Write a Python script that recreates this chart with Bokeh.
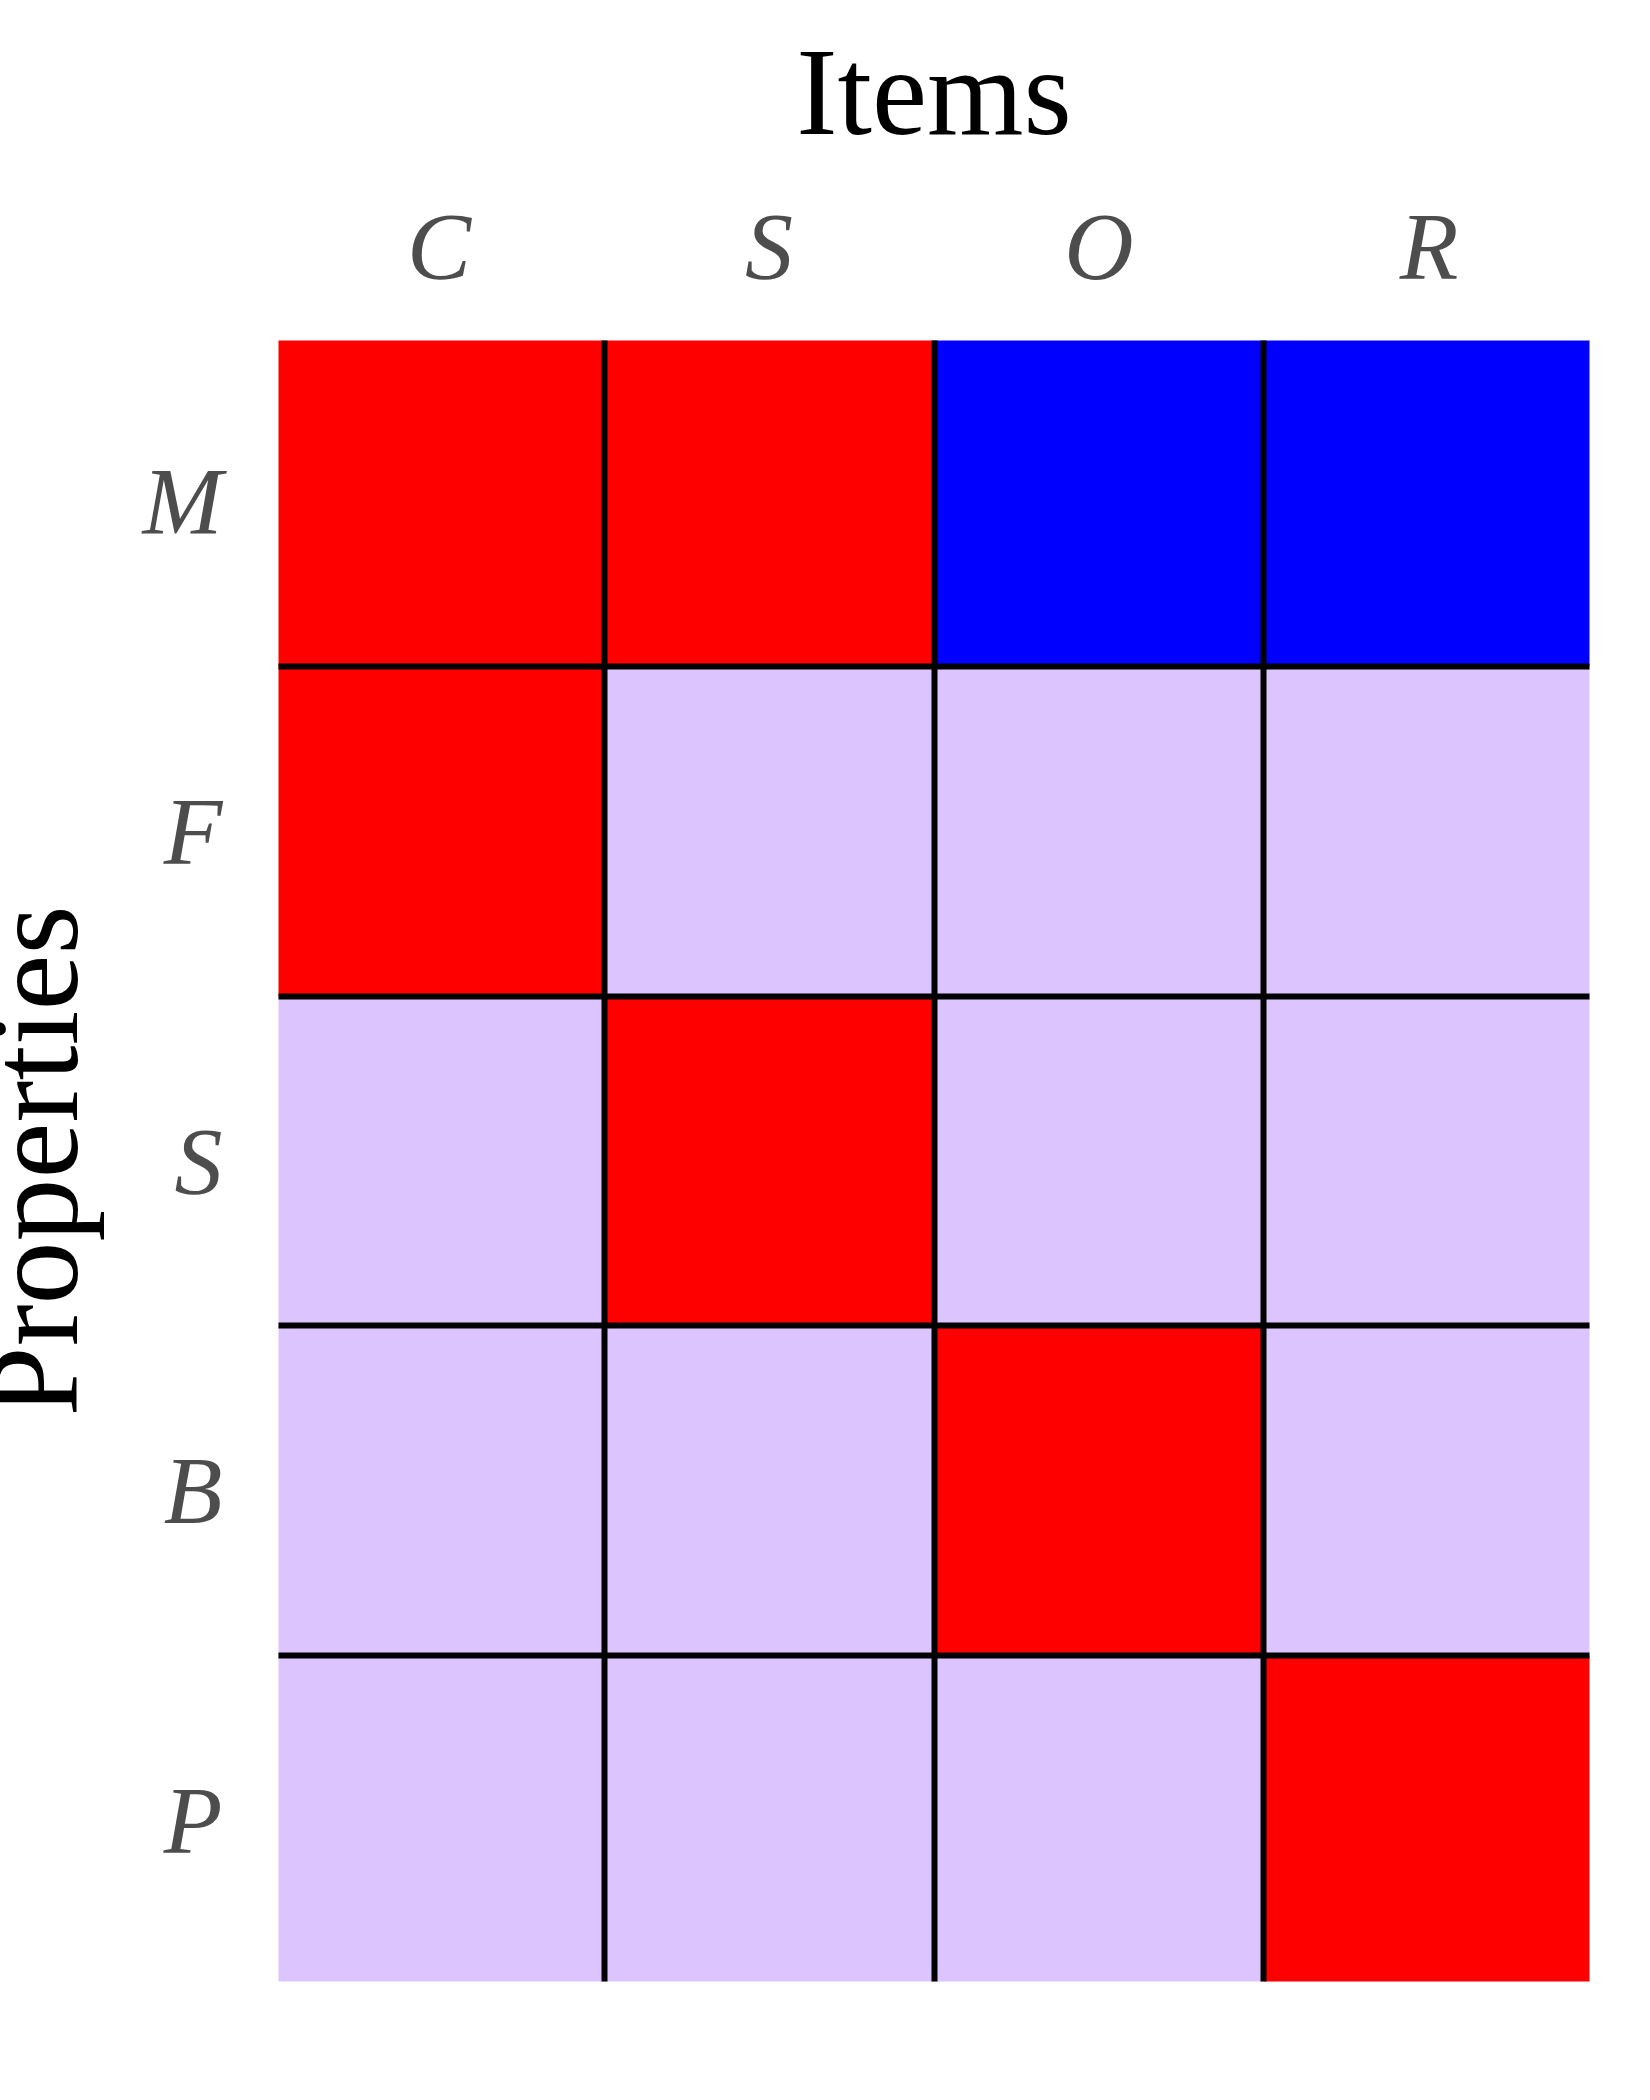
from bokeh.plotting import figure
from bokeh.models import Range1d, FixedTicker, ColumnDataSource
from bokeh.embed import file_html
from bokeh.resources import INLINE

# ---- data ----
items = ["C", "S", "O", "R"]
properties = ["M", "F", "S", "B", "P"]
# 1 = red, -1 = blue, 0 = lavender (background)
values = [
    [1, 1, -1, -1],
    [1, 0, 0, 0],
    [0, 1, 0, 0],
    [0, 0, 1, 0],
    [0, 0, 0, 1],
]
palette = {1: "#ff0000", -1: "#0000ff", 0: "#dcc4fe"}

n_rows = len(properties)
n_cols = len(items)

xs, ys, colors = [], [], []
for i, prop in enumerate(properties):
    for j, item in enumerate(items):
        xs.append(j)
        ys.append(n_rows - 1 - i)
        colors.append(palette[values[i][j]])
src = ColumnDataSource(dict(x=xs, y=ys, color=colors))

FONT = "Liberation Serif"
FRAME_W = 1311
FRAME_H = 1641
SHIFT = 44                      # the y title runs slightly past the left page edge, as in the original
LEFT, TOP, RIGHT, BOTTOM = 278 + SHIFT, 340, 30, 100
PAD = 0.0136                    # cells are slightly cropped by the frame

p = figure(
    width=LEFT + FRAME_W + RIGHT, height=TOP + FRAME_H + BOTTOM,
    x_range=Range1d(-0.5 + PAD, n_cols - 0.5 - PAD),
    y_range=Range1d(-0.5 + PAD, n_rows - 0.5 - PAD),
    x_axis_location="above",
    output_backend="svg", toolbar_location=None,
    min_border_left=LEFT, min_border_right=RIGHT,
    min_border_top=TOP, min_border_bottom=BOTTOM,
    styles={"margin-left": f"-{SHIFT}px"},
)
p.outline_line_color = None
p.background_fill_color = "white"

p.rect(x="x", y="y", width=1, height=1, source=src,
       fill_color="color", line_color=None)

# cell separators (internal boundaries only)
p.xgrid.ticker = FixedTicker(ticks=[k + 0.5 for k in range(n_cols - 1)])
p.ygrid.ticker = FixedTicker(ticks=[k + 0.5 for k in range(n_rows - 1)])
for g in (p.xgrid[0], p.ygrid[0]):
    g.grid_line_color = "black"
    g.grid_line_width = 6
    g.grid_line_alpha = 1.0
    g.level = "overlay"

# axes
p.xaxis.ticker = FixedTicker(ticks=list(range(n_cols)))
p.xaxis.major_label_overrides = {j: it for j, it in enumerate(items)}
p.yaxis.ticker = FixedTicker(ticks=list(range(n_rows)))
p.yaxis.major_label_overrides = {n_rows - 1 - i: pr for i, pr in enumerate(properties)}

for ax in (p.xaxis[0], p.yaxis[0]):
    ax.axis_line_color = None
    ax.major_tick_line_color = None
    ax.minor_tick_line_color = None
    ax.major_label_text_font = FONT
    ax.major_label_text_font_style = "italic"
    ax.major_label_text_font_size = "96px"
    ax.major_label_text_color = "#4d4d4d"
    ax.axis_label_text_font = FONT
    ax.axis_label_text_font_style = "normal"
    ax.axis_label_text_color = "black"

p.xaxis.major_label_standoff = 35
p.yaxis.major_label_standoff = 50

p.xaxis.axis_label = "Items"
p.xaxis.axis_label_text_font_size = "124px"
p.xaxis.axis_label_standoff = 29
p.yaxis.axis_label = "Properties"
p.yaxis.axis_label_text_font_size = "126px"
p.yaxis.axis_label_standoff = 36

open("out.html", "w").write(file_html(p, INLINE))
